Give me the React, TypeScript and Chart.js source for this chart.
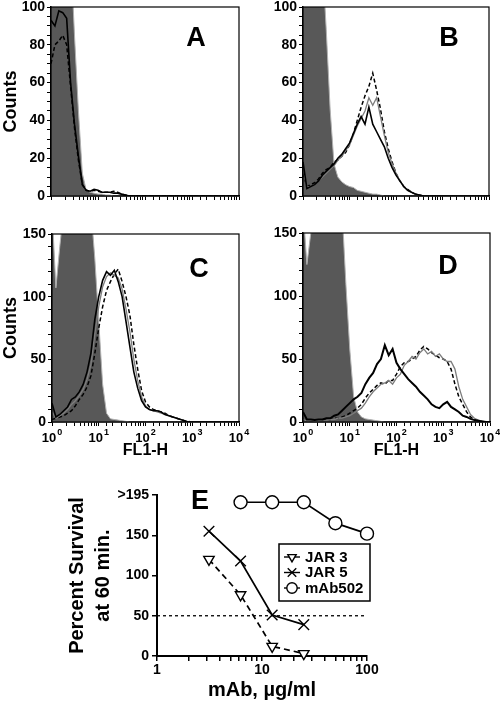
import React, { useEffect, useRef } from 'react';
import { Chart, registerables } from 'chart.js';
import { drawPoint } from 'chart.js/helpers';

Chart.register(...registerables);

const FONT = "'Liberation Sans', Arial, Helvetica, sans-serif";
Chart.defaults.font.family = FONT;
Chart.defaults.color = '#000';

// ---------- histogram data (FL1-H channel, log spaced) ----------
const CHANNELS = [
  1, 1.212, 1.468, 1.778, 2.154, 2.61, 3.162, 3.831, 4.642, 5.623, 6.813, 8.254,
  10, 12.12, 14.68, 17.78, 21.54, 26.1, 31.62, 38.31, 46.42, 56.23, 68.13, 82.54,
  100, 121.2, 146.8, 177.8, 215.4, 261.0, 316.2, 383.1, 464.2, 562.3, 681.3, 825.4,
  1000, 1212, 1468, 1778, 2154, 2610, 3162, 3831, 4642, 5623, 6813, 8254,
  10000,
];

const A_CONTROL = [
  140, 140, 140, 140, 140, 130, 85, 45, 12, 3, 2, 1.5,
  1, 1, 0.5, 0.5, 0, 0, 0, 0, 0, 0, 0, 0,
  0, 0, 0, 0, 0, 0, 0, 0, 0, 0, 0, 0,
  0, 0, 0, 0, 0, 0, 0, 0, 0, 0, 0, 0,
  0,
];
const A_SOLID = [
  93, 90, 98, 97, 94, 60, 38, 21, 6, 3, 2.5, 3.5,
  3, 2, 2, 2, 1.5, 1.5, 1, 0.5, 0, 0, 0, 0,
  0, 0, 0, 0, 0, 0, 0, 0, 0, 0, 0, 0,
  0, 0, 0, 0, 0, 0, 0, 0, 0, 0, 0, 0,
  0,
];
const A_DASHED = [
  70, 80, 82, 85, 80, 58, 36, 19, 6, 3, 2.5, 3,
  2.5, 2, 2, 2, 2.5, 2, 1, 0.5, 0, 0, 0, 0,
  0, 0, 0, 0, 0, 0, 0, 0, 0, 0, 0, 0,
  0, 0, 0, 0, 0, 0, 0, 0, 0, 0, 0, 0,
  0,
];

const B_CONTROL = [
  140, 140, 140, 140, 140, 125, 88, 46, 17, 10, 7.5, 6,
  5, 4.5, 3, 2.5, 2, 1.5, 1, 1, 0.5, 0, 0, 0,
  0, 0, 0, 0, 0, 0, 0, 0, 0, 0, 0, 0,
  0, 0, 0, 0, 0, 0, 0, 0, 0, 0, 0, 0,
  0,
];
const B_SOLID = [
  18, 4, 5, 6, 8, 11, 13, 15, 17, 20, 22, 25,
  28, 33, 38, 42, 38, 47, 38, 34, 30, 26, 20, 15,
  11, 8, 5, 3, 2, 1, 0.5, 0, 0, 0, 0, 0,
  0, 0, 0, 0, 0, 0, 0, 0, 0, 0, 0, 0,
  0,
];
const B_GRAY = [
  14, 5, 5, 6, 8, 10, 12, 14, 16, 19, 21, 24,
  27, 32, 37, 41, 45, 52, 48, 52, 42, 32, 23, 17,
  12, 8, 5, 3, 2, 1, 0.5, 0, 0, 0, 0, 0,
  0, 0, 0, 0, 0, 0, 0, 0, 0, 0, 0, 0,
  0,
];
const B_DASHED = [
  12, 5, 6, 7, 9, 12, 14, 15, 18, 19, 21, 23,
  27, 33, 40, 47, 53, 58, 65, 56, 46, 34, 25, 18,
  12, 8, 5, 3.5, 2, 1, 0.5, 0, 0, 0, 0, 0,
  0, 0, 0, 0, 0, 0, 0, 0, 0, 0, 0, 0,
  0,
];

const C_CONTROL = [
  170, 107, 140, 170, 170, 170, 170, 170, 170, 170, 170, 130,
  80, 30, 7, 2.5, 2, 1.5, 1, 0.5, 0, 0, 0, 0,
  0, 0, 0, 0, 0, 0, 0, 0, 0, 0, 0, 0,
  0, 0, 0, 0, 0, 0, 0, 0, 0, 0, 0, 0,
  0,
];
const C_SOLID = [
  15, 4, 6, 9, 12, 18, 20, 24, 30, 40, 55, 82,
  100, 113, 120, 117, 121, 112, 100, 80, 60, 40, 27, 17,
  12, 10, 9, 9, 8, 6, 5, 4, 3, 2, 1, 0,
  0, 0, 0, 0, 0, 0, 0, 0, 0, 0, 0, 0,
  0,
];
const C_GRAY = [
  8, 3, 5, 7, 10, 14, 17, 21, 26, 34, 46, 70,
  92, 108, 116, 119, 117, 115, 106, 90, 72, 50, 33, 20,
  13, 10, 9, 8, 7, 6, 5, 4, 3, 2, 1, 0,
  0, 0, 0, 0, 0, 0, 0, 0, 0, 0, 0, 0,
  0,
];
const C_DASHED = [
  2, 3, 4, 5, 7, 9, 13, 18, 22, 28, 37, 55,
  75, 92, 105, 112, 118, 122, 112, 100, 85, 62, 42, 25,
  16, 12, 10, 9, 8, 7, 5, 4, 3, 2, 1, 0.5,
  0, 0, 0, 0, 0, 0, 0, 0, 0, 0, 0, 0,
  0,
];

const D_CONTROL = [
  170, 125, 150, 170, 170, 170, 170, 170, 170, 170, 170, 110,
  58, 20, 8, 4, 2.5, 2, 1.5, 1, 0.5, 0, 0, 0,
  0, 0, 0, 0, 0, 0, 0, 0, 0, 0, 0, 0,
  0, 0, 0, 0, 0, 0, 0, 0, 0, 0, 0, 0,
  0,
];
const D_SOLID = [
  8, 2, 2, 1.5, 2, 2, 3, 3, 5, 6, 9, 12,
  15, 18, 20, 23, 30, 35, 39, 46, 50, 61, 53, 58,
  47, 42, 38, 34, 31, 28, 24, 21, 18, 14, 12, 11,
  14, 16, 12, 10, 8, 5, 4, 2.5, 1.5, 1, 0.5, 0,
  0,
];
const D_DASHED = [
  2, 1, 1, 1, 1.5, 1.5, 2, 2, 3, 3, 4, 5,
  7, 9, 11, 14, 19, 23, 26, 29, 31, 30, 33, 33,
  38, 44, 47, 48, 50, 52, 57, 60, 58, 55, 53, 51,
  50, 48, 42, 30, 20, 14, 8, 4, 2, 1, 0.5, 0,
  0,
];
const D_GRAY = [
  2, 1, 1, 1, 1, 1.5, 1.5, 2, 2, 3, 3, 4,
  5, 7, 9, 11, 15, 20, 24, 27, 30, 31, 33, 30,
  35, 38, 45, 48, 52, 50, 55, 58, 54, 56, 52, 54,
  50, 48, 48, 42, 28, 18, 12, 6, 3, 1.5, 0.5, 0,
  0,
];

const DECADE_EXPONENTS = [0, 1, 2, 3, 4];
const HIST_X_TITLE = 'FL1-H';
const HIST_Y_TITLE = 'Counts';

// ---------- panel E data ----------
const E_CONC_JAR3 = [3.125, 6.25, 12.5, 25];
const E_JAR3 = [120, 76, 12, 3];
const E_CONC_JAR5 = [3.125, 6.25, 12.5, 25];
const E_JAR5 = [155, 118, 51, 39];
const E_CONC_MAB502 = [6.25, 12.5, 25, 50, 100];
const E_MAB502 = [191, 191, 191, 165, 152];
const E_REF_X = [1, 100];
const E_REF_Y = [50, 50];
const E_X_LABELS = [1, 10, 100];
const E_Y_TOP_VALUE = 200;
const E_Y_TOP_LABEL = '>195';
const E_X_TITLE = 'mAb, µg/ml';
const E_Y_TITLE = ['Percent Survival', 'at 60 min.'];

// ---------- plugins ----------
const framePlugin = {
  id: 'frame',
  afterDraw(chart: any) {
    const { ctx, chartArea: a } = chart;
    ctx.save();
    ctx.strokeStyle = '#000';
    ctx.lineWidth = 1.2;
    ctx.strokeRect(a.left, a.top, a.right - a.left, a.bottom - a.top);
    ctx.restore();
  },
};

const logLabelsPlugin = {
  id: 'logLabels',
  afterDraw(chart: any, _args: any, opts: any) {
    if (!opts || !opts.show) return;
    const { ctx, chartArea: a } = chart;
    const xs = chart.scales.x;
    ctx.save();
    ctx.fillStyle = '#000';
    ctx.textBaseline = 'alphabetic';
    ctx.textAlign = 'left';
    for (const e of DECADE_EXPONENTS) {
      const px = xs.getPixelForValue(Math.pow(10, e));
      ctx.font = `bold 13px ${FONT}`;
      const bw = ctx.measureText('10').width;
      ctx.font = `bold 9px ${FONT}`;
      const sup = String(e);
      const sw = ctx.measureText(sup).width;
      const x0 = px - (bw + sw + 1) / 2;
      ctx.font = `bold 13px ${FONT}`;
      ctx.fillText('10', x0, a.bottom + 20);
      ctx.font = `bold 9px ${FONT}`;
      ctx.fillText(sup, x0 + bw + 1, a.bottom + 13);
    }
    ctx.restore();
  },
};

const boxLegendPlugin = {
  id: 'boxLegend',
  afterDraw(chart: any) {
    const { ctx, chartArea: ca } = chart;
    const left = ca.left + 122;
    const top = ca.top + 49;
    const w = 91;
    const h = 57;
    ctx.save();
    ctx.setLineDash([]);
    ctx.lineWidth = 1.5;
    ctx.strokeStyle = '#000';
    ctx.fillStyle = '#fff';
    ctx.fillRect(left, top, w, h);
    ctx.strokeRect(left, top, w, h);
    const items = chart.data.datasets.filter((d: any) => d.label);
    items.forEach((d: any, i: number) => {
      const cy = top + 13 + i * 15.5;
      ctx.lineWidth = 1.4;
      ctx.strokeStyle = '#000';
      ctx.beginPath();
      ctx.moveTo(left + 5, cy);
      ctx.lineTo(left + 21, cy);
      ctx.stroke();
      ctx.fillStyle = '#fff';
      drawPoint(
        ctx,
        { pointStyle: d.pointStyle, rotation: d.pointRotation || 0, radius: d.pointRadius * 0.8, borderWidth: 1.3 } as any,
        left + 13,
        cy
      );
      ctx.fillStyle = '#000';
      ctx.font = `bold 15px ${FONT}`;
      ctx.textBaseline = 'middle';
      ctx.textAlign = 'left';
      ctx.fillText(d.label, left + 26, cy + 0.5);
    });
    ctx.restore();
  },
};

// ---------- config builders ----------
type HistSpec = {
  control: number[];
  solid: number[];
  dashed: number[];
  gray?: number[];
  yMax: number;
  yStep: number;
  yLabelStep: number;
  yWidth: number;
  xHeight: number;
  padTop: number;
  padRight: number;
  showYTitle: boolean;
  showX: boolean;
  solidWidth: number;
};

const toXY = (ys: number[]) => CHANNELS.map((x, i) => ({ x, y: ys[i] }));

function zeroPad(s: any) {
  s.paddingTop = 0;
  s.paddingBottom = 0;
  s.paddingLeft = 0;
  s.paddingRight = 0;
}

function histConfig(s: HistSpec): any {
  const datasets: any[] = [
    { data: toXY(s.solid), borderColor: '#000', borderWidth: s.solidWidth, order: 0 },
  ];
  if (s.gray) datasets.push({ data: toXY(s.gray), borderColor: '#7d7d7d', borderWidth: 1.3, order: 1 });
  datasets.push({ data: toXY(s.dashed), borderColor: '#000', borderWidth: 1.5, borderDash: [4, 2.5], order: 2 });
  datasets.push({
    data: toXY(s.control),
    borderColor: '#b0b0b0',
    borderWidth: 1,
    backgroundColor: '#585858',
    fill: 'origin',
    order: 3,
  });
  return {
    type: 'line',
    data: { datasets },
    plugins: [framePlugin, logLabelsPlugin],
    options: {
      animation: false,
      responsive: false,
      devicePixelRatio: 1,
      layout: { padding: { top: s.padTop, right: s.padRight, left: 0, bottom: 0 } },
      elements: { point: { radius: 0 }, line: { tension: 0 } },
      plugins: { legend: { display: false }, tooltip: { enabled: false }, logLabels: { show: s.showX } },
      scales: {
        x: {
          type: 'logarithmic',
          min: 1,
          max: 10000,
          ticks: { display: false, autoSkip: false },
          grid: { drawOnChartArea: false, drawTicks: true, tickLength: 4, color: '#000', lineWidth: 1 },
          border: { display: true, color: '#000', width: 1.5 },
          title: {
            display: s.showX,
            text: HIST_X_TITLE,
            color: '#000',
            font: { size: 16, weight: 'bold', family: FONT },
            padding: 0,
          },
          afterFit: (sc: any) => {
            sc.height = s.xHeight;
            zeroPad(sc);
          },
        },
        y: {
          type: 'linear',
          min: 0,
          max: s.yMax,
          ticks: {
            stepSize: s.yStep,
            maxTicksLimit: 100,
            autoSkip: false,
            padding: 2,
            color: '#000',
            font: { size: 14, weight: 'bold', family: FONT },
            callback: (v: any) => (Number(v) % s.yLabelStep === 0 ? String(v) : ''),
          },
          grid: { drawOnChartArea: false, drawTicks: true, tickLength: 4, color: '#000', lineWidth: 1 },
          border: { display: true, color: '#000', width: 1.5 },
          title: {
            display: s.showYTitle,
            text: HIST_Y_TITLE,
            color: '#000',
            font: { size: 18, weight: 'bold', family: FONT },
            padding: 0,
          },
          afterFit: (sc: any) => {
            sc.width = s.yWidth;
            zeroPad(sc);
          },
        },
      },
    },
  };
}

function survivalConfig(): any {
  const pts = (xs: number[], ys: number[]) => xs.map((x, i) => ({ x, y: ys[i] }));
  const common = {
    borderColor: '#000',
    pointBorderColor: '#000',
    pointBackgroundColor: '#fff',
    pointBorderWidth: 1.4,
    borderWidth: 1.7,
    tension: 0,
    clip: false,
  };
  return {
    type: 'line',
    data: {
      datasets: [
        { ...common, label: 'JAR 3', data: pts(E_CONC_JAR3, E_JAR3), borderDash: [6, 4], pointStyle: 'triangle', pointRotation: 180, pointRadius: 6, order: 1 },
        { ...common, label: 'JAR 5', data: pts(E_CONC_JAR5, E_JAR5), pointStyle: 'crossRot', pointRadius: 7.5, order: 0 },
        { ...common, label: 'mAb502', data: pts(E_CONC_MAB502, E_MAB502), pointStyle: 'circle', pointRadius: 6.5, order: 2 },
        { label: '', data: pts(E_REF_X, E_REF_Y), borderColor: '#000', borderWidth: 1.3, borderDash: [3, 3], pointRadius: 0, order: 5 },
      ],
    },
    plugins: [boxLegendPlugin],
    options: {
      animation: false,
      responsive: false,
      devicePixelRatio: 1,
      layout: { padding: { top: 35, right: 133, left: 0, bottom: 0 } },
      plugins: { legend: { display: false }, tooltip: { enabled: false } },
      scales: {
        x: {
          type: 'logarithmic',
          min: 1,
          max: 100,
          ticks: {
            autoSkip: false,
            maxRotation: 0,
            padding: 1,
            color: '#000',
            font: { size: 14, weight: 'bold', family: FONT },
            callback: (v: any) => (E_X_LABELS.some((l) => Math.abs(l - Number(v)) < 1e-6) ? String(Number(v)) : ''),
          },
          grid: { drawOnChartArea: false, drawTicks: true, tickLength: 5, color: '#000', lineWidth: 1.5 },
          border: { display: true, color: '#000', width: 2 },
          title: {
            display: true,
            text: E_X_TITLE,
            color: '#000',
            font: { size: 20, weight: 'bold', family: FONT },
            padding: { top: 0, bottom: 1 },
          },
          afterFit: (sc: any) => {
            sc.height = 47;
            zeroPad(sc);
          },
        },
        y: {
          type: 'linear',
          min: 0,
          max: E_Y_TOP_VALUE,
          ticks: {
            stepSize: 50,
            autoSkip: false,
            padding: 3,
            color: '#000',
            font: { size: 14, weight: 'bold', family: FONT },
            callback: (v: any) => (Number(v) === E_Y_TOP_VALUE ? E_Y_TOP_LABEL : String(v)),
          },
          grid: { drawOnChartArea: false, drawTicks: true, tickLength: 5, color: '#000', lineWidth: 1.5 },
          border: { display: true, color: '#000', width: 2 },
          title: {
            display: true,
            text: E_Y_TITLE,
            color: '#000',
            font: { size: 20, weight: 'bold', family: FONT, lineHeight: 1.3 },
            padding: { top: 64, bottom: 0 },
          },
          afterFit: (sc: any) => {
            sc.width = 157;
            zeroPad(sc);
          },
        },
      },
    },
  };
}

const PANEL_A: HistSpec = {
  control: A_CONTROL, solid: A_SOLID, dashed: A_DASHED,
  yMax: 100, yStep: 5, yLabelStep: 20,
  yWidth: 51, xHeight: 19, padTop: 7, padRight: 11,
  showYTitle: true, showX: false, solidWidth: 1.6,
};
const PANEL_B: HistSpec = {
  control: B_CONTROL, solid: B_SOLID, dashed: B_DASHED, gray: B_GRAY,
  yMax: 100, yStep: 5, yLabelStep: 20,
  yWidth: 53, xHeight: 19, padTop: 7, padRight: 11,
  showYTitle: false, showX: false, solidWidth: 1.6,
};
const PANEL_C: HistSpec = {
  control: C_CONTROL, solid: C_SOLID, dashed: C_DASHED, gray: C_GRAY,
  yMax: 150, yStep: 10, yLabelStep: 50,
  yWidth: 52, xHeight: 38, padTop: 19, padRight: 11,
  showYTitle: true, showX: true, solidWidth: 1.6,
};
const PANEL_D: HistSpec = {
  control: D_CONTROL, solid: D_SOLID, dashed: D_DASHED, gray: D_GRAY,
  yMax: 150, yStep: 10, yLabelStep: 50,
  yWidth: 53, xHeight: 38, padTop: 18, padRight: 10,
  showYTitle: false, showX: true, solidWidth: 2,
};

function ChartCanvas({ left, top, width, height, make }: any) {
  const ref = useRef<HTMLCanvasElement | null>(null);
  useEffect(() => {
    if (!ref.current) return;
    const c = new Chart(ref.current, make());
    return () => c.destroy();
  }, []);
  return (
    <canvas
      ref={ref}
      width={width}
      height={height}
      style={{ position: 'absolute', left, top, width, height, display: 'block' }}
    />
  );
}

const LETTERS = [
  { t: 'A', x: 196, y: 37 },
  { t: 'B', x: 449, y: 37 },
  { t: 'C', x: 199, y: 268 },
  { t: 'D', x: 448, y: 265 },
  { t: 'E', x: 200, y: 500 },
];

export default function App() {
  return (
    <div style={{ position: 'absolute', left: 0, top: 0, width: 500, height: 703, background: '#fff', overflow: 'hidden' }}>
      <ChartCanvas left={0} top={0} width={250} height={215} make={() => histConfig(PANEL_A)} />
      <ChartCanvas left={250} top={0} width={250} height={215} make={() => histConfig(PANEL_B)} />
      <ChartCanvas left={0} top={215} width={250} height={245} make={() => histConfig(PANEL_C)} />
      <ChartCanvas left={250} top={215} width={250} height={245} make={() => histConfig(PANEL_D)} />
      <ChartCanvas left={0} top={460} width={500} height={243} make={() => survivalConfig()} />
      {LETTERS.map((l) => (
        <div
          key={l.t}
          style={{
            position: 'absolute',
            left: l.x,
            top: l.y,
            transform: 'translate(-50%, -50%)',
            fontFamily: FONT,
            fontWeight: 700,
            fontSize: 27,
            lineHeight: '27px',
            color: '#000',
          }}
        >
          {l.t}
        </div>
      ))}
    </div>
  );
}
